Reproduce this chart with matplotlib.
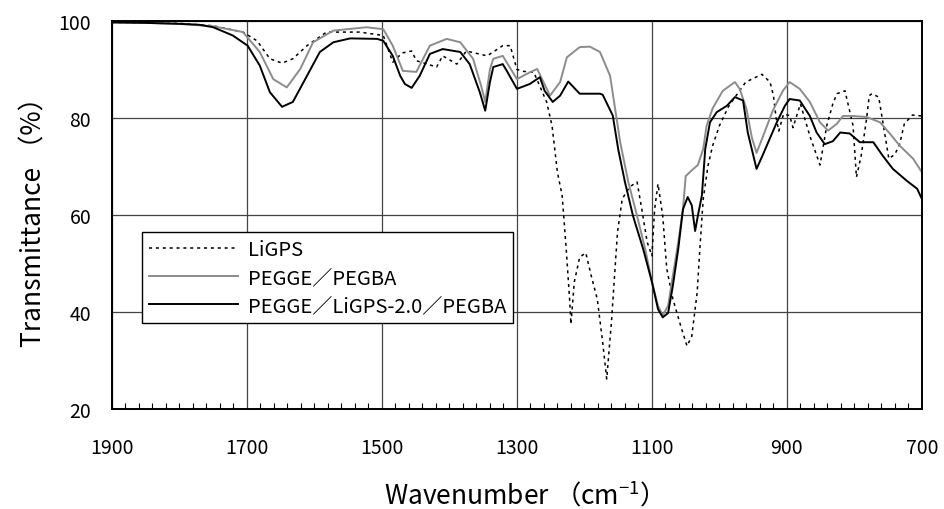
import numpy as np
import matplotlib
matplotlib.use("Agg")
import matplotlib.pyplot as plt
from matplotlib.ticker import MultipleLocator

plt.rcParams['font.family'] = ['Noto Sans CJK JP', 'DejaVu Sans']
plt.rcParams['mathtext.fontset'] = 'custom'
plt.rcParams['mathtext.rm'] = 'Noto Sans CJK JP'

# LiGPS (dotted)
wn_ligps = [1900, 1850, 1800, 1750, 1706, 1685, 1666, 1648, 1632, 1611, 1582, 1533, 1498, 1484,
            1470, 1456, 1449, 1419, 1410, 1389, 1375, 1344, 1321, 1310, 1300, 1290, 1275, 1256,
            1248, 1244, 1240, 1233, 1227, 1222, 1220, 1215, 1207, 1198, 1190, 1181, 1173, 1167,
            1160, 1156, 1151, 1144, 1133, 1122, 1115, 1107, 1100, 1096, 1091, 1084, 1078, 1069,
            1056, 1048, 1041, 1033, 1029, 1024, 1017, 1010, 1000, 986, 961, 937, 925, 920, 916,
            912, 905, 896, 891, 880, 866, 851, 841, 832, 826, 814, 808, 802, 797, 790, 782, 778,
            774, 764, 757, 749, 740, 733, 726, 714, 700]
t_ligps = [99.7, 99.6, 99.5, 99.0, 97.7, 95.9, 92.2, 91.3, 92.2, 94.9, 97.7, 97.7, 97.0, 91.5,
           93.4, 93.8, 91.8, 90.5, 92.8, 91.1, 93.8, 92.8, 94.9, 94.9, 90.0, 89.6, 89.4, 83.3,
           78.4, 73.6, 68.8, 64.0, 53.0, 42.7, 37.5, 46.2, 51.3, 52.2, 47.5, 42.7, 33.8, 26.2,
           37.9, 46.2, 56.5, 63.3, 65.8, 66.8, 61.2, 54.4, 51.6, 61.2, 66.4, 59.8, 48.9, 42.7,
           36.5, 33.0, 35.0, 44.0, 53.0, 63.3, 70.1, 74.3, 78.4, 82.5, 87.4, 89.0, 87.4, 84.6, 80.0,
           77.3, 80.8, 80.5, 78.0, 82.9, 76.3, 70.3, 78.4, 82.9, 85.0, 85.6, 82.0, 78.4, 67.8,
           72.2, 79.8, 84.6, 85.0, 84.3, 78.4, 71.6, 72.5, 74.6, 78.8, 80.6, 80.4]

# PEGGE/PEGBA (gray)
wn_peg = [1900, 1850, 1800, 1750, 1706, 1681, 1661, 1641, 1621, 1602, 1572, 1523, 1498, 1484,
          1469, 1449, 1429, 1404, 1384, 1365, 1353, 1347, 1340, 1335, 1321, 1300, 1281, 1270,
          1251, 1236, 1226, 1207, 1192, 1177, 1162, 1147, 1135, 1122, 1110, 1100, 1091, 1084,
          1076, 1069, 1061, 1054, 1050, 1041, 1032, 1024, 1019, 1010, 995, 977, 970, 960, 952,
          945, 936, 921, 906, 896, 881, 866, 851, 839, 826, 817, 802, 782, 762, 747, 733, 713, 700]
t_peg = [99.7, 99.6, 99.4, 98.9, 97.7, 93.6, 88.0, 86.3, 90.1, 95.6, 98.0, 98.7, 98.3, 94.9,
         89.7, 89.5, 94.9, 96.3, 95.6, 92.2, 86.6, 83.3, 90.0, 92.2, 92.8, 88.0, 89.4, 90.1,
         84.6, 87.4, 92.5, 94.6, 94.7, 93.6, 88.7, 75.0, 66.8, 59.8, 53.0, 46.2, 41.3, 39.3,
         41.3, 47.5, 54.4, 61.2, 68.0, 69.2, 70.3, 73.6, 78.4, 82.0, 85.6, 87.4, 86.0, 81.9, 76.0,
         72.8, 76.0, 81.5, 85.6, 87.4, 86.0, 83.3, 79.1, 77.4, 78.8, 80.4, 80.4, 80.2, 79.1, 76.7,
         74.3, 71.6, 68.8]

# PEGGE/LiGPS-2.0/PEGBA (black)
wn_blend = [1900, 1850, 1800, 1770, 1750, 1721, 1699, 1681, 1666, 1648, 1632, 1611, 1592, 1572,
            1547, 1507, 1498, 1484, 1473, 1466, 1456, 1444, 1429, 1410, 1384, 1370, 1355, 1347,
            1340, 1335, 1321, 1315, 1300, 1281, 1266, 1259, 1247, 1236, 1224, 1207, 1177, 1173,
            1158, 1150, 1140, 1128, 1113, 1100, 1091, 1084, 1076, 1069, 1061, 1054, 1047, 1041,
            1036, 1032, 1026, 1021, 1014, 1004, 989, 977, 965, 958, 945, 936, 915, 903, 896, 881,
            866, 856, 844, 832, 821, 807, 792, 772, 758, 743, 722, 707, 700]
t_blend = [99.7, 99.6, 99.4, 99.2, 98.7, 97.0, 94.9, 90.8, 85.3, 82.3, 83.3, 88.7, 93.6, 95.6,
           96.4, 96.3, 95.9, 92.8, 88.7, 87.0, 86.2, 88.7, 93.2, 94.2, 93.6, 91.1, 85.3, 81.5,
           87.4, 90.5, 91.1, 89.7, 86.0, 87.0, 88.4, 85.6, 83.3, 84.6, 87.5, 85.0, 85.0, 84.8,
           80.5, 73.6, 66.8, 59.8, 53.0, 46.2, 40.6, 38.9, 39.8, 45.4, 53.0, 61.2, 63.7, 62.0,
           56.7, 59.8, 64.0, 73.6, 79.1, 81.2, 82.5, 84.3, 83.6, 77.0, 69.5, 72.3, 79.1, 82.5, 83.9,
           83.6, 80.4, 77.0, 74.6, 75.2, 77.0, 76.8, 75.0, 75.0, 72.2, 69.5, 67.0, 65.4, 63.3]

fig = plt.figure(figsize=(9.44, 5.10), dpi=100)
ax = fig.add_axes([0.1186, 0.196, 0.858, 0.761])

ax.plot(wn_ligps, t_ligps, color='black', lw=1.1, ls=(0, (2, 2.5)), label='LiGPS')
ax.plot(wn_peg, t_peg, color='#8c8c8c', lw=1.4, label='PEGGE／PEGBA')
ax.plot(wn_blend, t_blend, color='black', lw=1.4, label='PEGGE／LiGPS-2.0／PEGBA')

ax.set_xlim(1900, 700)
ax.set_ylim(20, 100)
ax.set_xticks([1900, 1700, 1500, 1300, 1100, 900, 700])
ax.set_yticks([20, 40, 60, 80, 100])
ax.xaxis.set_minor_locator(MultipleLocator(20))
ax.tick_params(axis='both', which='major', length=0, labelsize=14)
ax.tick_params(axis='x', which='major', pad=20)
ax.tick_params(axis='y', which='major', pad=15)
ax.tick_params(axis='x', which='minor', direction='in', length=4, width=0.8, top=False)
ax.grid(True, which='major', color='#444444', lw=0.9)
for s in ax.spines.values():
    s.set_linewidth(1.4)

ax.set_xlabel('Wavenumber （cm$^{-1}$）', fontsize=19, labelpad=15)
ax.set_ylabel('Transmittance （%）', fontsize=19, labelpad=8)

leg = ax.legend(loc='lower left', bbox_to_anchor=(0.037, 0.222), fontsize=14.5, frameon=True,
                fancybox=False, handlelength=4.4, borderaxespad=0, labelspacing=0.35,
                borderpad=0.35, handletextpad=0.5)
leg.get_frame().set_edgecolor('black')
leg.get_frame().set_linewidth(1.0)
leg.get_frame().set_alpha(1)

fig.savefig('out.png', dpi=100)
